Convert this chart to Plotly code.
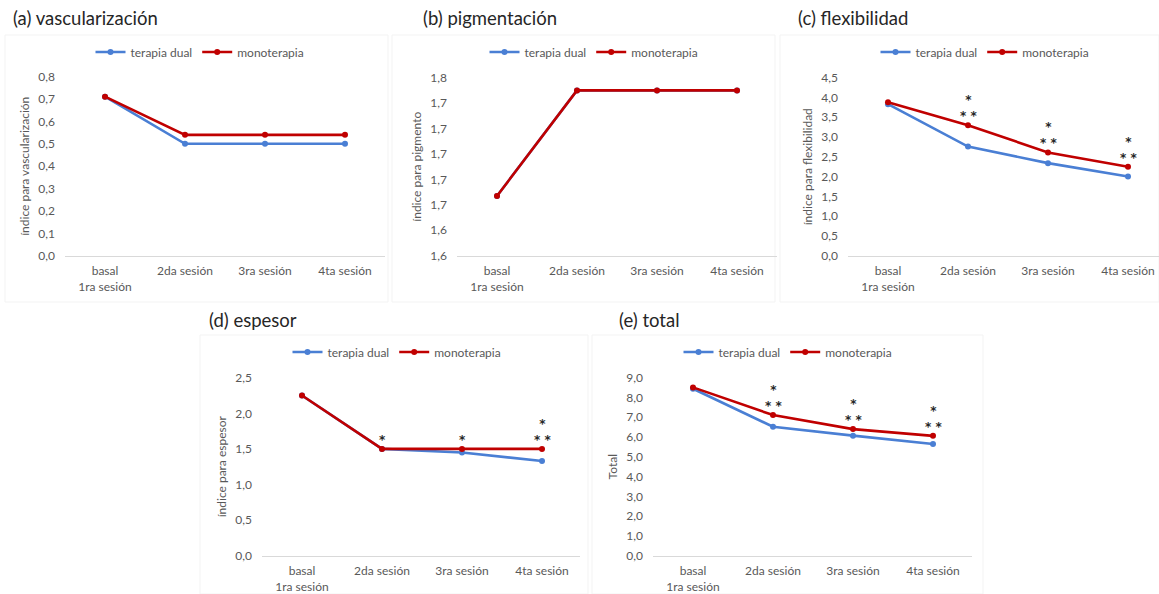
import plotly.graph_objects as go

W, H = 1159, 594

categories = ["basal<br>1ra sesión", "2da sesión", "3ra sesión", "4ta sesión"]
series_names = ["terapia dual", "monoterapia"]

# (a) vascularización
vasc_dual = [0.71, 0.50, 0.50, 0.50]
vasc_mono = [0.71, 0.54, 0.54, 0.54]
# (b) pigmentación
pig_dual = [1.667, 1.75, 1.75, 1.75]
pig_mono = [1.667, 1.75, 1.75, 1.75]
pig_tickvals = [1.62, 1.64, 1.66, 1.68, 1.70, 1.72, 1.74, 1.76]
pig_ticktext = ["1,6", "1,6", "1,7", "1,7", "1,7", "1,7", "1,7", "1,8"]
# (c) flexibilidad
flex_dual = [3.83, 2.76, 2.34, 2.00]
flex_mono = [3.88, 3.30, 2.61, 2.25]
flex_sig = ["", "*|* *", "*|* *", "*|* *"]
# (d) espesor
esp_dual = [2.25, 1.50, 1.45, 1.33]
esp_mono = [2.25, 1.50, 1.50, 1.50]
esp_sig = ["", "*", "*", "*|* *"]
# (e) total
tot_dual = [8.44, 6.52, 6.07, 5.65]
tot_mono = [8.51, 7.11, 6.40, 6.06]
tot_sig = ["", "*|* *", "*|* *", "*|* *"]

titles = ["(a) vascularización", "(b) pigmentación", "(c) flexibilidad", "(d) espesor", "(e) total"]
ytitles = ["índice para vascularización", "índice para pigmento", "índice para flexibilidad",
           "índice para espesor", "Total"]

BLUE = "#4a7fd4"
RED = "#c00000"
GRAY = "#595959"
FONT = "Lato"

def px(x):
    return x / W

def py(y):
    return 1 - y / H

fig = go.Figure()

panels = [
    dict(dual=vasc_dual, mono=vasc_mono, x0=65, x1=385, ytop=76.5, ybot=256, yr=[0, 0.8], dt=0.1,
         leg_x=200, leg_y=52, title_x=11, title_y=18, box=(5, 35, 388, 302)),
    dict(dual=pig_dual, mono=pig_mono, x0=457, x1=777, ytop=77.7, ybot=255.7, yr=[1.62, 1.76],
         tv=pig_tickvals, tt=pig_ticktext, leg_x=594, leg_y=52, title_x=421, title_y=18,
         box=(392, 35, 775, 302)),
    dict(dual=flex_dual, mono=flex_mono, x0=848, x1=1159, ytop=77.7, ybot=255.7, yr=[0, 4.5], dt=0.5,
         leg_x=985, leg_y=52, title_x=796, title_y=18, box=(780, 35, 1159, 302), sig=flex_sig),
    dict(dual=esp_dual, mono=esp_mono, x0=262, x1=580, ytop=377.7, ybot=555.7, yr=[0, 2.5], dt=0.5,
         leg_x=397, leg_y=352, title_x=207, title_y=320, box=(200, 335, 588, 594), sig=esp_sig),
    dict(dual=tot_dual, mono=tot_mono, x0=653, x1=972, ytop=377.7, ybot=555.7, yr=[0, 9], dt=1,
         leg_x=788, leg_y=352, title_x=617, title_y=320, box=(592, 335, 983, 594), sig=tot_sig),
]

layout = dict(
    width=W, height=H, margin=dict(l=0, r=0, t=0, b=0, autoexpand=False),
    paper_bgcolor="white", plot_bgcolor="white", separators=", ",
    font=dict(family=FONT, color=GRAY, size=12),
    annotations=[], shapes=[],
)

for i, p in enumerate(panels):
    n = "" if i == 0 else str(i + 1)
    xa, ya = "x" + n, "y" + n
    leg = "legend" + n
    for name, vals, col in [(series_names[0], p["dual"], BLUE), (series_names[1], p["mono"], RED)]:
        fig.add_trace(go.Scatter(
            x=categories, y=vals, name=name, mode="lines+markers",
            line=dict(color=col, width=2.6), marker=dict(color=col, size=6),
            xaxis=xa, yaxis=ya, legend=leg, showlegend=True, hoverinfo="skip"))
    nrange = (p["x1"] - p["x0"]) / 80.0
    layout["xaxis" + n] = dict(
        domain=[px(p["x0"]), px(p["x1"])], anchor=ya, type="category",
        range=[-0.5, -0.5 + nrange], showgrid=False, zeroline=False, automargin=False,
        showline=True, linecolor="#d9d9d9", linewidth=1, ticks="", ticklabelstandoff=4,
        tickfont=dict(size=12, color=GRAY, family=FONT), fixedrange=True)
    yax = dict(
        domain=[py(p["ybot"]), py(p["ytop"])], anchor=xa, range=p["yr"], automargin=False,
        showgrid=False, zeroline=False, showline=False, ticks="",
        ticklabelstandoff=9,
        tickfont=dict(size=12, color=GRAY, family=FONT),
        title=dict(text=ytitles[i], font=dict(size=12, color=GRAY, family=FONT), standoff=6),
        fixedrange=True)
    if "tv" in p:
        yax.update(tickmode="array", tickvals=p["tv"], ticktext=p["tt"])
    else:
        yax.update(tickmode="linear", tick0=0, dtick=p["dt"], tickformat=".1f")
    layout["yaxis" + n] = yax
    layout[leg] = dict(
        orientation="h", x=px(p["leg_x"]), xanchor="center", y=py(p["leg_y"]), yanchor="middle",
        font=dict(size=12, color=GRAY, family=FONT), bgcolor="rgba(0,0,0,0)",
        itemwidth=30, tracegroupgap=0)
    layout["annotations"].append(dict(
        text=titles[i], xref="paper", yref="paper", x=px(p["title_x"]), y=py(p["title_y"]),
        xanchor="left", yanchor="middle", showarrow=False,
        font=dict(size=18.5, color="#262626", family=FONT)))
    bx0, by0, bx1, by1 = p["box"]
    layout["shapes"].append(dict(
        type="rect", xref="paper", yref="paper", x0=px(bx0), x1=px(bx1), y0=py(by1), y1=py(by0),
        line=dict(color="#f3f3f3", width=1), layer="below"))
    if "sig" in p:
        for c, s, v in zip(categories, p["sig"], p["mono"]):
            if not s:
                continue
            txt = "<br>".join(s.split("|"))
            layout["annotations"].append(dict(
                text=txt, x=c, y=v, xref=xa, yref=ya, showarrow=False, yshift=0,
                yanchor="bottom", font=dict(size=12, color="#262626", family="DejaVu Sans",
                                            weight="bold")))

fig.update_layout(**layout)
fig.write_html("out.html")
